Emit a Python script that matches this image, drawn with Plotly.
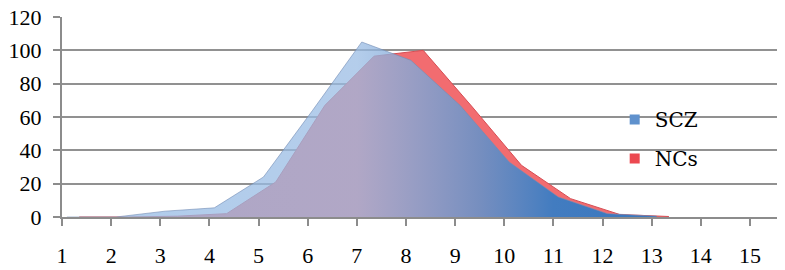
import plotly.graph_objects as go

# Data
categories = list(range(1, 16))
tick_labels = [str(c) for c in categories]
scz_values = [0, 0, 3.5, 5.5, 24, 64, 105, 94, 67, 33, 12, 2, 0.5, 0, 0]
nc_values = [0, 0, 0.5, 2, 21, 67, 96.5, 100, 66, 31, 11, 1.5, 0.3, 0, 0]

# 3-D style depth offsets of each series along the category axis
SCZ_SHIFT = 0.1
NC_SHIFT = 0.35
N_DRAWN = 13  # categories that carry a non-empty area

scz_x = [c + SCZ_SHIFT for c in categories[:N_DRAWN]]
nc_x = [c + NC_SHIFT for c in categories[:N_DRAWN]]

TICK_FONT = dict(family="Liberation Serif, Times New Roman, serif", size=22, color="black")
LEGEND_FONT = dict(family="DejaVu Serif, serif", size=20, color="black")

fig = go.Figure()

# back series: NCs (red)
fig.add_trace(go.Scatter(
    x=nc_x, y=nc_values[:N_DRAWN], mode="lines", fill="tozeroy",
    fillcolor="rgb(242,108,112)",
    line=dict(color="rgb(214,78,84)", width=1),
    showlegend=False, hoverinfo="skip",
))

# front series: SCZ (translucent light blue -> opaque blue)
fig.add_trace(go.Scatter(
    x=scz_x, y=scz_values[:N_DRAWN], mode="lines", fill="tozeroy",
    fillgradient=dict(
        type="horizontal",
        start=1, stop=13.5,
        colorscale=[
            [0.0, "rgba(148,186,228,0.74)"],
            [0.48, "rgba(154,188,228,0.74)"],
            [0.68, "rgba(104,146,200,0.9)"],
            [0.8, "rgba(66,124,192,1)"],
            [1.0, "rgba(55,118,190,1)"],
        ],
    ),
    line=dict(color="rgba(115,140,180,0.6)", width=1),
    showlegend=False, hoverinfo="skip",
))

# legend entries
fig.add_trace(go.Scatter(
    x=[None], y=[None], mode="markers", name="SCZ", legendgroup="a",
    marker=dict(symbol="square", size=10, color="rgb(95,145,205)"),
))
fig.add_trace(go.Scatter(
    x=[None], y=[None], mode="markers", name="NCs", legendgroup="b",
    marker=dict(symbol="square", size=10, color="rgb(236,72,80)"),
))

# the page body adds an 8px offset, so the figure is 8px smaller than the window
fig.update_layout(
    width=777, height=262,
    margin=dict(l=54, r=8, t=9, b=53, autoexpand=False),
    paper_bgcolor="white", plot_bgcolor="white",
    font=LEGEND_FONT,
    showlegend=True,
    legend=dict(
        x=0.773, y=0.585, xanchor="left", yanchor="top",
        bgcolor="rgba(0,0,0,0)", borderwidth=0,
        traceorder="grouped", tracegroupgap=10,
        font=LEGEND_FONT,
        itemwidth=30,
    ),
    xaxis=dict(
        range=[1, 15.55], tickmode="array", tickvals=categories, ticktext=tick_labels,
        showgrid=False, zeroline=False, automargin=False,
        showline=True, linecolor="rgb(140,140,140)", linewidth=2,
        ticks="outside", ticklen=7, tickwidth=2, tickcolor="rgb(140,140,140)",
        ticklabelstandoff=11,
        tickfont=TICK_FONT,
    ),
    yaxis=dict(
        range=[0, 120], dtick=20, tick0=0,
        showgrid=True, gridcolor="rgb(145,145,145)", gridwidth=1.5,
        zeroline=False, automargin=False,
        showline=True, linecolor="rgb(140,140,140)", linewidth=2,
        ticks="outside", ticklen=7, tickwidth=2, tickcolor="rgb(140,140,140)",
        ticklabelstandoff=7, ticklabeloverflow="allow",
        tickfont=TICK_FONT,
    ),
)

fig.write_html("out.html")
